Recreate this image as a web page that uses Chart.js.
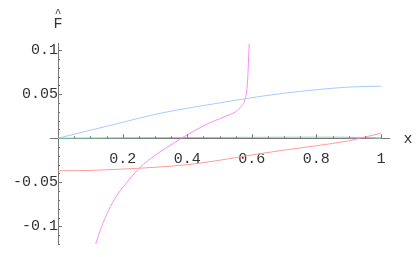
<!DOCTYPE html>
<html>
<head>
<meta charset="utf-8">
<script src="https://cdn.jsdelivr.net/npm/chart.js@4.4.0/dist/chart.umd.min.js"></script>
<style>
  html, body { margin: 0; padding: 0; background: #fff; }
  canvas { display: block; }
</style>
</head>
<body>
<canvas id="plot" width="416" height="257"></canvas>
<script>
// curve samples
const blueX = [0, 0.1, 0.2, 0.3, 0.4, 0.5, 0.6, 0.7, 0.8, 0.9, 1.0];
const blueY = [0, 0.009, 0.018, 0.027, 0.034, 0.040, 0.046, 0.051, 0.055, 0.058, 0.059];

const pinkX = [0.115, 0.13, 0.15, 0.175, 0.2, 0.225, 0.25, 0.28, 0.316, 0.35, 0.38, 0.42, 0.47, 0.5, 0.533, 0.55, 0.569, 0.579, 0.586, 0.589, 0.592];
const pinkY = [-0.122, -0.105, -0.087, -0.069, -0.056, -0.045, -0.0345, -0.025, -0.0155, -0.0075, -0.0005, 0.008, 0.0175, 0.022, 0.027, 0.030, 0.037, 0.044, 0.06, 0.08, 0.107];

const redX = [0, 0.1, 0.2, 0.3, 0.4, 0.5, 0.6, 0.7, 0.8, 0.9, 0.935, 1.0];
const redY = [-0.037, -0.0365, -0.035, -0.033, -0.030, -0.025, -0.019, -0.0135, -0.0085, -0.003, 0, 0.0056];

const greenX = [0, 0.2, 0.4, 0.6, 0.8, 0.95, 1.0];
const greenY = [0, 0.0005, 0.0008, 0.001, 0.0012, 0.0008, 0];

const violetX = [0.9, 0.95, 1.0];
const violetY = [0.0002, 0.0004, 0.0002];

const xTicks = [0.2, 0.4, 0.6, 0.8, 1];
const xTickLabels = ["0.2", "0.4", "0.6", "0.8", "1"];
const yTicks = [-0.1, -0.05, 0.05, 0.1];
const yTickLabels = ["-0.1", "-0.05", "0.05", "0.1"];

const toPts = (xs, ys) => xs.map((x, i) => ({ x: x, y: ys[i] }));

function line(label, xs, ys, color) {
  return {
    label: label,
    data: toPts(xs, ys),
    borderColor: color,
    borderWidth: 1,
    pointRadius: 0,
    showLine: true,
    fill: false,
    cubicInterpolationMode: "monotone"
  };
}

const tickFont = { family: "'Liberation Mono', 'DejaVu Sans Mono', monospace", size: 15 };

// minor/major tick marks drawn inward + axis names
const axisDecor = {
  id: "axisDecor",
  afterDraw(chart) {
    const ctx = chart.ctx;
    const xs = chart.scales.x, ys = chart.scales.y;
    const x0 = xs.getPixelForValue(0), y0 = ys.getPixelForValue(0);
    ctx.save();
    ctx.strokeStyle = "#777";
    ctx.lineWidth = 1;
    ctx.beginPath();
    for (let i = 1; i <= 20; i++) {
      const v = i * 0.05;
      const px = Math.round(xs.getPixelForValue(v)) + 0.5;
      const len = (i % 4 === 0) ? 4 : 2;
      ctx.moveTo(px, y0);
      ctx.lineTo(px, y0 - len);
    }
    for (let i = -12; i <= 10; i++) {
      if (i === 0) continue;
      const v = i * 0.01;
      const py = Math.round(ys.getPixelForValue(v)) + 0.5;
      const len = (i % 5 === 0) ? 4 : 2;
      ctx.moveTo(x0, py);
      ctx.lineTo(x0 + len, py);
    }
    ctx.stroke();

    ctx.fillStyle = "#333";
    ctx.font = "15px 'Liberation Mono', monospace";
    ctx.textAlign = "center";
    ctx.textBaseline = "middle";
    ctx.fillText("x", 408, 139);
    ctx.fillText("F", x0, 24);
    ctx.font = "11px 'Liberation Mono', monospace";
    ctx.fillText("^", x0, 13);
    ctx.restore();
  }
};

new Chart(document.getElementById("plot").getContext("2d"), {
  type: "scatter",
  data: {
    datasets: [
      line("green", greenX, greenY, "#7fd6a6"),
      line("violet", violetX, violetY, "#c080e0"),
      line("blue", blueX, blueY, "#a6cbff"),
      line("red", redX, redY, "#ff9c9c"),
      line("pink", pinkX, pinkY, "#ff88ff")
    ]
  },
  options: {
    responsive: false,
    animation: false,
    layout: { padding: { left: 50, right: 27, top: 43, bottom: 9 } },
    plugins: { legend: { display: false }, tooltip: { enabled: false } },
    scales: {
      x: {
        type: "linear",
        min: -0.025,
        max: 1.025,
        position: { y: 0 },
        grid: { display: false },
        border: { display: true, color: "#777", width: 1 },
        afterBuildTicks: s => { s.ticks = xTicks.map(v => ({ value: v })); },
        ticks: {
          padding: 4,
          color: "#333",
          font: tickFont,
          maxRotation: 0,
          autoSkip: false,
          callback: v => xTickLabels[xTicks.indexOf(v)]
        }
      },
      y: {
        type: "linear",
        min: -0.12,
        max: 0.108,
        position: { x: 0 },
        grid: { display: false },
        border: { display: true, color: "#777", width: 1 },
        afterBuildTicks: s => { s.ticks = yTicks.map(v => ({ value: v })); },
        ticks: {
          padding: 4,
          color: "#333",
          font: tickFont,
          autoSkip: false,
          callback: v => yTickLabels[yTicks.indexOf(v)]
        }
      }
    }
  },
  plugins: [axisDecor]
});
</script>
</body>
</html>
